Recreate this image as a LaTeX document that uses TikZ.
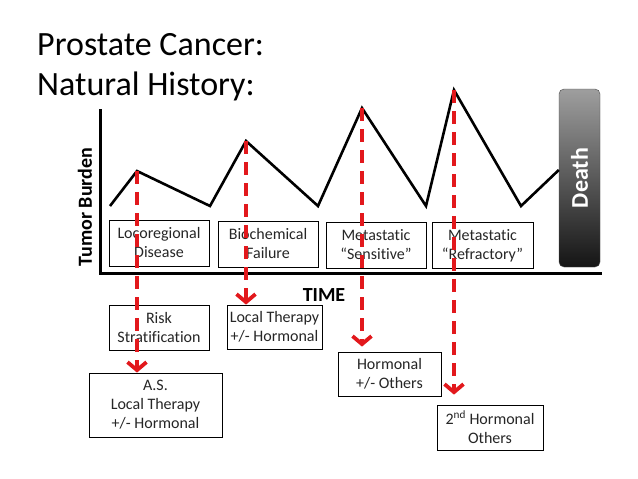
\documentclass[tikz,border=0pt]{standalone}
\usepackage{fontspec}
\setmainfont{Carlito}[Ligatures=NoCommon]
\usetikzlibrary{arrows.meta}
\definecolor{burdenred}{RGB}{226,24,28}
\tikzset{
  stagebox/.style={draw=black, line width=0.8pt, minimum width=100pt, minimum height=46pt,
    align=center, font=\fontsize{16}{19}\selectfont, text=black!85, inner sep=1pt},
  treatbox/.style={stagebox},
  reddash/.style={draw=burdenred, line width=4pt, dash pattern=on 13pt off 8pt,
    -{Straight Barb[length=8pt,width=19pt,line width=3.8pt]}},
  curve/.style={line width=2.6pt, line join=miter},
}
\begin{document}
\begin{tikzpicture}[x=1pt,y=-1pt]
    \useasboundingbox[fill=white] (0,0) rectangle (638,479);
    % title
    \node[anchor=base west, inner sep=0pt, font=\fontsize{34}{40}\selectfont] (title1) at (37,55) {Prostate Cancer:};
    \node[anchor=base west, inner sep=0pt, font=\fontsize{34}{40}\selectfont] (title2) at (37,95) {Natural History:};
    % axes
    \coordinate (ytop) at (100,109);
    \coordinate (xend) at (602,273);
    \draw[line width=3pt] (ytop) |- (xend);
    \node[rotate=90, font=\fontsize{20}{24}\bfseries] (burden) at (85,207) {Tumor Burden};
    \node[font=\fontsize{20}{24}\bfseries] (time) at (324,295) {TIME};
    % death
    \node[rounded corners=5pt, top color=black!38, bottom color=black!92, draw=black!70,
      minimum width=41pt, minimum height=178pt] (death) at (579.5,178) {};
    \node[rotate=90, text=white, font=\fontsize{24}{28}\bfseries] at (death) {Death};
    % tumor burden curve
    \coordinate (z0) at (110,206);
    \coordinate (z1) at (137,171);
    \coordinate (z2) at (210,206);
    \coordinate (z3) at (246,141);
    \coordinate (z4) at (318,206);
    \coordinate (z5) at (362,108);
    \coordinate (z6) at (426,206);
    \coordinate (z7) at (454,90);
    \coordinate (z8) at (521,206);
    \draw[curve] (z0) -- (z1) -- (z2) -- (z3) -- (z4) -- (z5) -- (z6) -- (z7) -- (z8) -- (death.west |- 0,170);
    % stages
    \node[stagebox] (loco) at (159,243) {Locoregional\\Disease};
    \node[stagebox] (bio) at (268,244) {Biochemical\\Failure};
    \node[stagebox] (sens) at (376,245) {Metastatic\\``Sensitive''};
    \node[stagebox, minimum width=101pt] (refr) at (482.5,245.5) {Metastatic\\``Refractory''};
    % treatments
    \node[treatbox, minimum height=45pt] (risk) at (159,327.5) {Risk\\Stratification};
    \node[treatbox, minimum width=133pt, minimum height=64pt] (as) at (155.5,405) {A.S.\\Local Therapy\\+/- Hormonal};
    \node[treatbox, minimum width=95pt, minimum height=44pt] (local) at (274.5,327) {Local Therapy\\+/- Hormonal};
    \node[treatbox, minimum width=103pt, minimum height=44pt] (horm) at (389.5,374) {Hormonal\\+/- Others};
    \node[treatbox, minimum width=106pt, minimum height=45pt] (second) at (490,427.5) {2\textsuperscript{nd} Hormonal\\Others};
    % red arrows
    \draw[reddash] (z1) -- (z1 |- as.north);
    \draw[reddash] (z3) -- (z3 |- local.north);
    \draw[reddash] (z5) -- ([yshift=5pt]z5 |- horm.north);
    \draw[reddash] (z7) -- ([yshift=10pt]z7 |- second.north);
\end{tikzpicture}
\end{document}
